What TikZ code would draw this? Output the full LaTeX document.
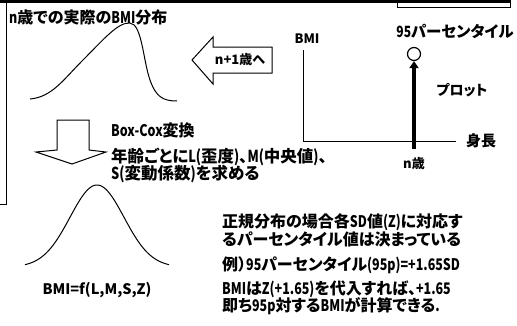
\documentclass[tikz,border=0pt]{standalone}
\usepackage{fontspec}
\newfontfamily\jp[RawFeature=+palt]{Noto Sans CJK JP}
\newfontfamily\latf[FakeStretch=0.78]{Noto Sans CJK JP}
\newcommand{\lt}[1]{{\latf #1}}
\usetikzlibrary{arrows.meta}
\tikzset{
  txt/.style={inner sep=0pt, font=\jp\bfseries\fontsize{#1}{#1}\selectfont},
  txt/.default=14,
  frame/.style={line width=1pt},
  curve/.style={line width=1pt},
  bigarrow/.style={line width=1pt, fill=white, line join=miter},
  axis/.style={line width=1pt},
}
\begin{document}
\begin{tikzpicture}[x=1pt,y=-1pt]
\useasboundingbox (0,0) rectangle (517,325);
% frame remnants
\draw[line width=3pt] (0,1.5) -- (511,1.5);
\draw[frame] (397,0) rectangle (510,7);
\coordinate (ftop) at (6,0);
\coordinate (fbot) at (6,204);
\coordinate (fend) at (0,204);
\draw[frame] (ftop) -- (fbot) -- (fend);
% title
\node[txt=16, anchor=base west] (title) at (9,23) {\lt{n}歳での実際の\lt{BMI}分布};
% skewed distribution
\draw[curve] (30,99) .. controls (52,97) and (63,80) .. (83,60)
  .. controls (103,40) and (118,22) .. (130,23)
  .. controls (142,24) and (143,60) .. (150,80)
  .. controls (156,97) and (163,101) .. (177,101);
% left arrow
\draw[bigarrow] (192,60) -- (213,37) -- (213,47) -- (272,47) -- (272,73) -- (213,73) -- (213,84) -- cycle;
\node[txt=13, anchor=base] (next) at (240,64.5) {n+1歳へ};
% down arrow
\draw[bigarrow] (57,120) -- (89,120) -- (89,150) -- (106,152) -- (72,164) -- (36,152) -- (57,150) -- cycle;
\node[txt=16, anchor=base west] (bc) at (111,136.5) {\lt{Box-Cox}変換};
\node[txt=16.5, anchor=base west] (lms1) at (111,162) {年齢ごとに\lt{L(}歪度\lt{)}、\lt{M(}中央値\lt{)}、};
\node[txt=16.5, anchor=base west] (lms2) at (111,179) {\lt{S(}変動係数\lt{)}を求める};
% normal curve
\draw[curve] plot[domain=25:169, samples=90, smooth] (\x, {267-82*exp(-((\x-97)/27)^2/2)});
\node[txt=14.5, anchor=base] (f) at (97,294) {BMI=f(L,M,S,Z)};
% axes
\coordinate (otop) at (303,50);
\coordinate (orig) at (303,141);
\coordinate (xend) at (456,141);
\draw[axis] (otop) -- (orig) -- (xend);
\node[txt=13, anchor=base] (bmi) at (307,43) {BMI};
\node[txt=15, anchor=base west] (height) at (466,146.5) {身長};
\node[txt=15.5, anchor=base] (p95lab) at (455,37) {\lt{95}パーセンタイル};
\node[circle, draw, line width=1.2pt, minimum size=13pt, inner sep=0pt, fill=white] (pt) at (414,54) {};
\coordinate (abot) at (414,149);
\draw[line width=4pt, -{Triangle[length=7pt,width=9pt]}] (abot) -- (pt.south);
\node[txt=14, anchor=base] (plot) at (462,95) {プロット};
\node[txt=13, anchor=base] (nage) at (414,168) {n歳};
% right text block
\node[txt=16, anchor=base west] (r1) at (222,227.5) {正規分布の場合各\lt{SD}値\lt{(Z)}に対応す};
\node[txt=16, anchor=base west] (r2) at (222,245.5) {るパーセンタイル値は決まっている};
\node[txt=16, anchor=base west] (r3) at (222,270) {例）\lt{95}パーセンタイル\lt{(95p)=+1.65SD}};
\node[txt=16, anchor=base west] (r4) at (222,294.5) {\lt{BMI}は\lt{Z(+1.65)}を代入すれば、\lt{+1.65}};
\node[txt=16, anchor=base west] (r5) at (222,311.5) {即ち\lt{95p}対する\lt{BMI}が計算できる\lt{.}};
\end{tikzpicture}
\end{document}
